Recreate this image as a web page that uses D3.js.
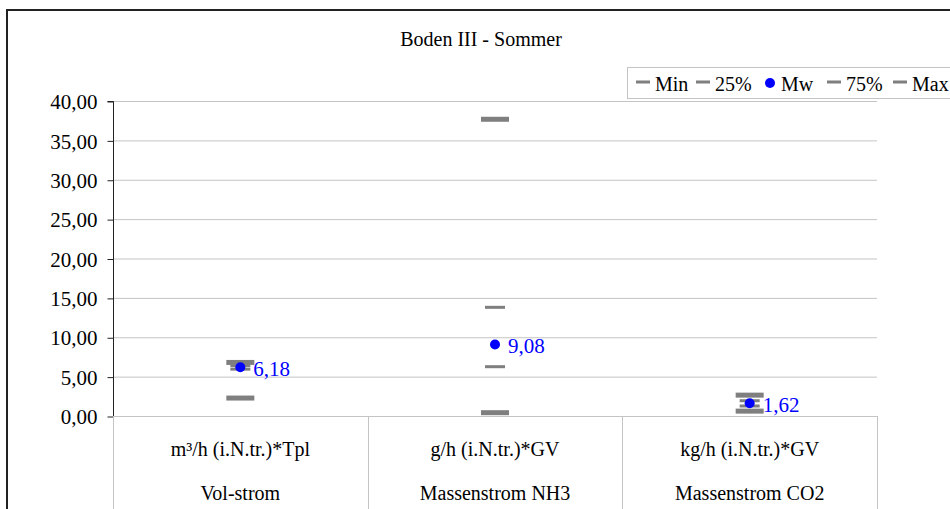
<!DOCTYPE html>
<html>
<head>
<meta charset="utf-8">
<script src="https://cdn.jsdelivr.net/npm/d3@7"></script>
<style>
  svg text { font-family: 'Liberation Serif'; }
</style>
</head>
<body style="margin:0;padding:0;background:#fff">
<svg id="chart" width="950" height="509" style="display:block"></svg>
<script>
// Categories and their unit labels
const categories = ["Vol-strom", "Massenstrom NH3", "Massenstrom CO2"];
const units = ["m³/h (i.N.tr.)*Tpl", "g/h (i.N.tr.)*GV", "kg/h (i.N.tr.)*GV"];

// Series values per category
const minVals = [2.28, 0.42, 0.62];
const q25Vals = [5.95, 6.26, 1.27];
const mwVals  = [6.18, 9.08, 1.62];
const q75Vals = [6.40, 13.80, 1.94];
const maxVals = [6.80, 37.68, 2.65];

// Axis ticks
const yTicks = [0, 5, 10, 15, 20, 25, 30, 35, 40];
const legendLabels = ["Min", "25%", "Mw", "75%", "Max"];

const svg = d3.select("#chart");
const plotLeft = 113, plotRight = 877, plotTop = 101, plotBottom = 416;
const serif = "Liberation Serif";

const x = d3.scaleBand().domain(categories).range([plotLeft, plotRight]).paddingInner(0).paddingOuter(0);
const y = d3.scaleLinear().domain([0, 40]).range([plotBottom, plotTop]);
const fmt = v => d3.format(".2f")(v).replace(".", ",");

// Outer frame
svg.append("path")
  .attr("d", `M7,509 V10 H950`)
  .attr("fill", "none").attr("stroke", "#222").attr("stroke-width", 2);

// Title
svg.append("text").attr("x", 481).attr("y", 46)
  .attr("text-anchor", "middle").attr("font-size", 20).attr("fill", "#000")
  .text("Boden III - Sommer");

// Gridlines
svg.append("g").selectAll("line").data(yTicks.filter(d => d > 0)).join("line")
  .attr("x1", plotLeft).attr("x2", plotRight)
  .attr("y1", d => y(d) + 0.5).attr("y2", d => y(d) + 0.5)
  .attr("stroke", "#c4c4c4").attr("stroke-width", 1);

// Y axis
const yAxis = d3.axisLeft(y).tickValues(yTicks).tickFormat(fmt).tickSize(6).tickPadding(10);
const gy = svg.append("g").attr("transform", `translate(${plotLeft + 0.5},0.5)`).call(yAxis);
gy.attr("font-family", serif);
gy.select(".domain").attr("stroke", "#222").attr("d", `M-6,${plotTop}H0V${plotBottom}`);
gy.selectAll(".tick line").attr("stroke", "#222");
gy.selectAll(".tick text").attr("font-size", 21).attr("fill", "#000").attr("dy", "0.34em");

// Category table below the plot
const tbl = svg.append("g");
tbl.append("line").attr("x1", plotLeft).attr("x2", plotRight)
  .attr("y1", plotBottom + 0.5).attr("y2", plotBottom + 0.5)
  .attr("stroke", "#c4c4c4");
const edges = categories.map(c => x(c)).concat([plotRight]);
tbl.selectAll("line.sep").data(edges).join("line").attr("class", "sep")
  .attr("x1", d => Math.round(d) + 0.5).attr("x2", d => Math.round(d) + 0.5)
  .attr("y1", plotBottom).attr("y2", 509)
  .attr("stroke", "#c4c4c4");
tbl.selectAll("text.unit").data(categories).join("text").attr("class", "unit")
  .attr("x", d => x(d) + x.bandwidth() / 2).attr("y", 456)
  .attr("text-anchor", "middle").attr("font-size", 20).attr("fill", "#000")
  .text((d, i) => units[i]);
tbl.selectAll("text.cat").data(categories).join("text").attr("class", "cat")
  .attr("x", d => x(d) + x.bandwidth() / 2).attr("y", 500)
  .attr("text-anchor", "middle").attr("font-size", 20).attr("fill", "#000")
  .text(d => d);

// Marks: dashes for min/quartiles/max, dot for mean
const grey = "#7f7f7f";
const cx = c => x(c) + x.bandwidth() / 2;
const dashSeries = [
  { vals: minVals, w: 28, h: 5 },
  { vals: q25Vals, w: 20, h: 3 },
  { vals: q75Vals, w: 20, h: 3 },
  { vals: maxVals, w: 28, h: 5 }
];
const marks = svg.append("g");
dashSeries.forEach(s => {
  marks.append("g").selectAll("rect").data(categories).join("rect")
    .attr("x", c => cx(c) - s.w / 2)
    .attr("y", (c, i) => y(s.vals[i]) - s.h / 2)
    .attr("width", s.w).attr("height", s.h)
    .attr("fill", grey);
});
marks.append("g").selectAll("circle").data(categories).join("circle")
  .attr("cx", cx).attr("cy", (c, i) => y(mwVals[i]))
  .attr("r", 5).attr("fill", "#0000ff");
marks.append("g").selectAll("text").data(categories).join("text")
  .attr("x", c => cx(c) + 13).attr("y", (c, i) => y(mwVals[i]) + 8.5)
  .attr("font-size", 21).attr("fill", "#0000ff")
  .text((c, i) => fmt(mwVals[i]));

// Legend
const lg = svg.append("g");
lg.append("rect").attr("x", 627.5).attr("y", 67.5).attr("width", 340).attr("height", 31)
  .attr("fill", "#fff").attr("stroke", "#c4c4c4");
const legendX = [636, 696, 765, 827, 893];
const legendTextX = [655, 715, 781, 846, 912];
legendLabels.forEach((lab, i) => {
  if (lab === "Mw") {
    lg.append("circle").attr("cx", legendX[i] + 5).attr("cy", 83).attr("r", 5).attr("fill", "#0000ff");
  } else {
    lg.append("rect").attr("x", legendX[i]).attr("y", 80.5).attr("width", 14).attr("height", 3).attr("fill", grey);
  }
  lg.append("text").attr("x", legendTextX[i]).attr("y", 90.5)
    .attr("font-size", 20).attr("fill", "#000").text(lab);
});

// All labels use a Times-like serif face
svg.selectAll("text")
  .attr("font-family", serif)
  .style("font-family", `'${serif}'`);
</script>
</body>
</html>
